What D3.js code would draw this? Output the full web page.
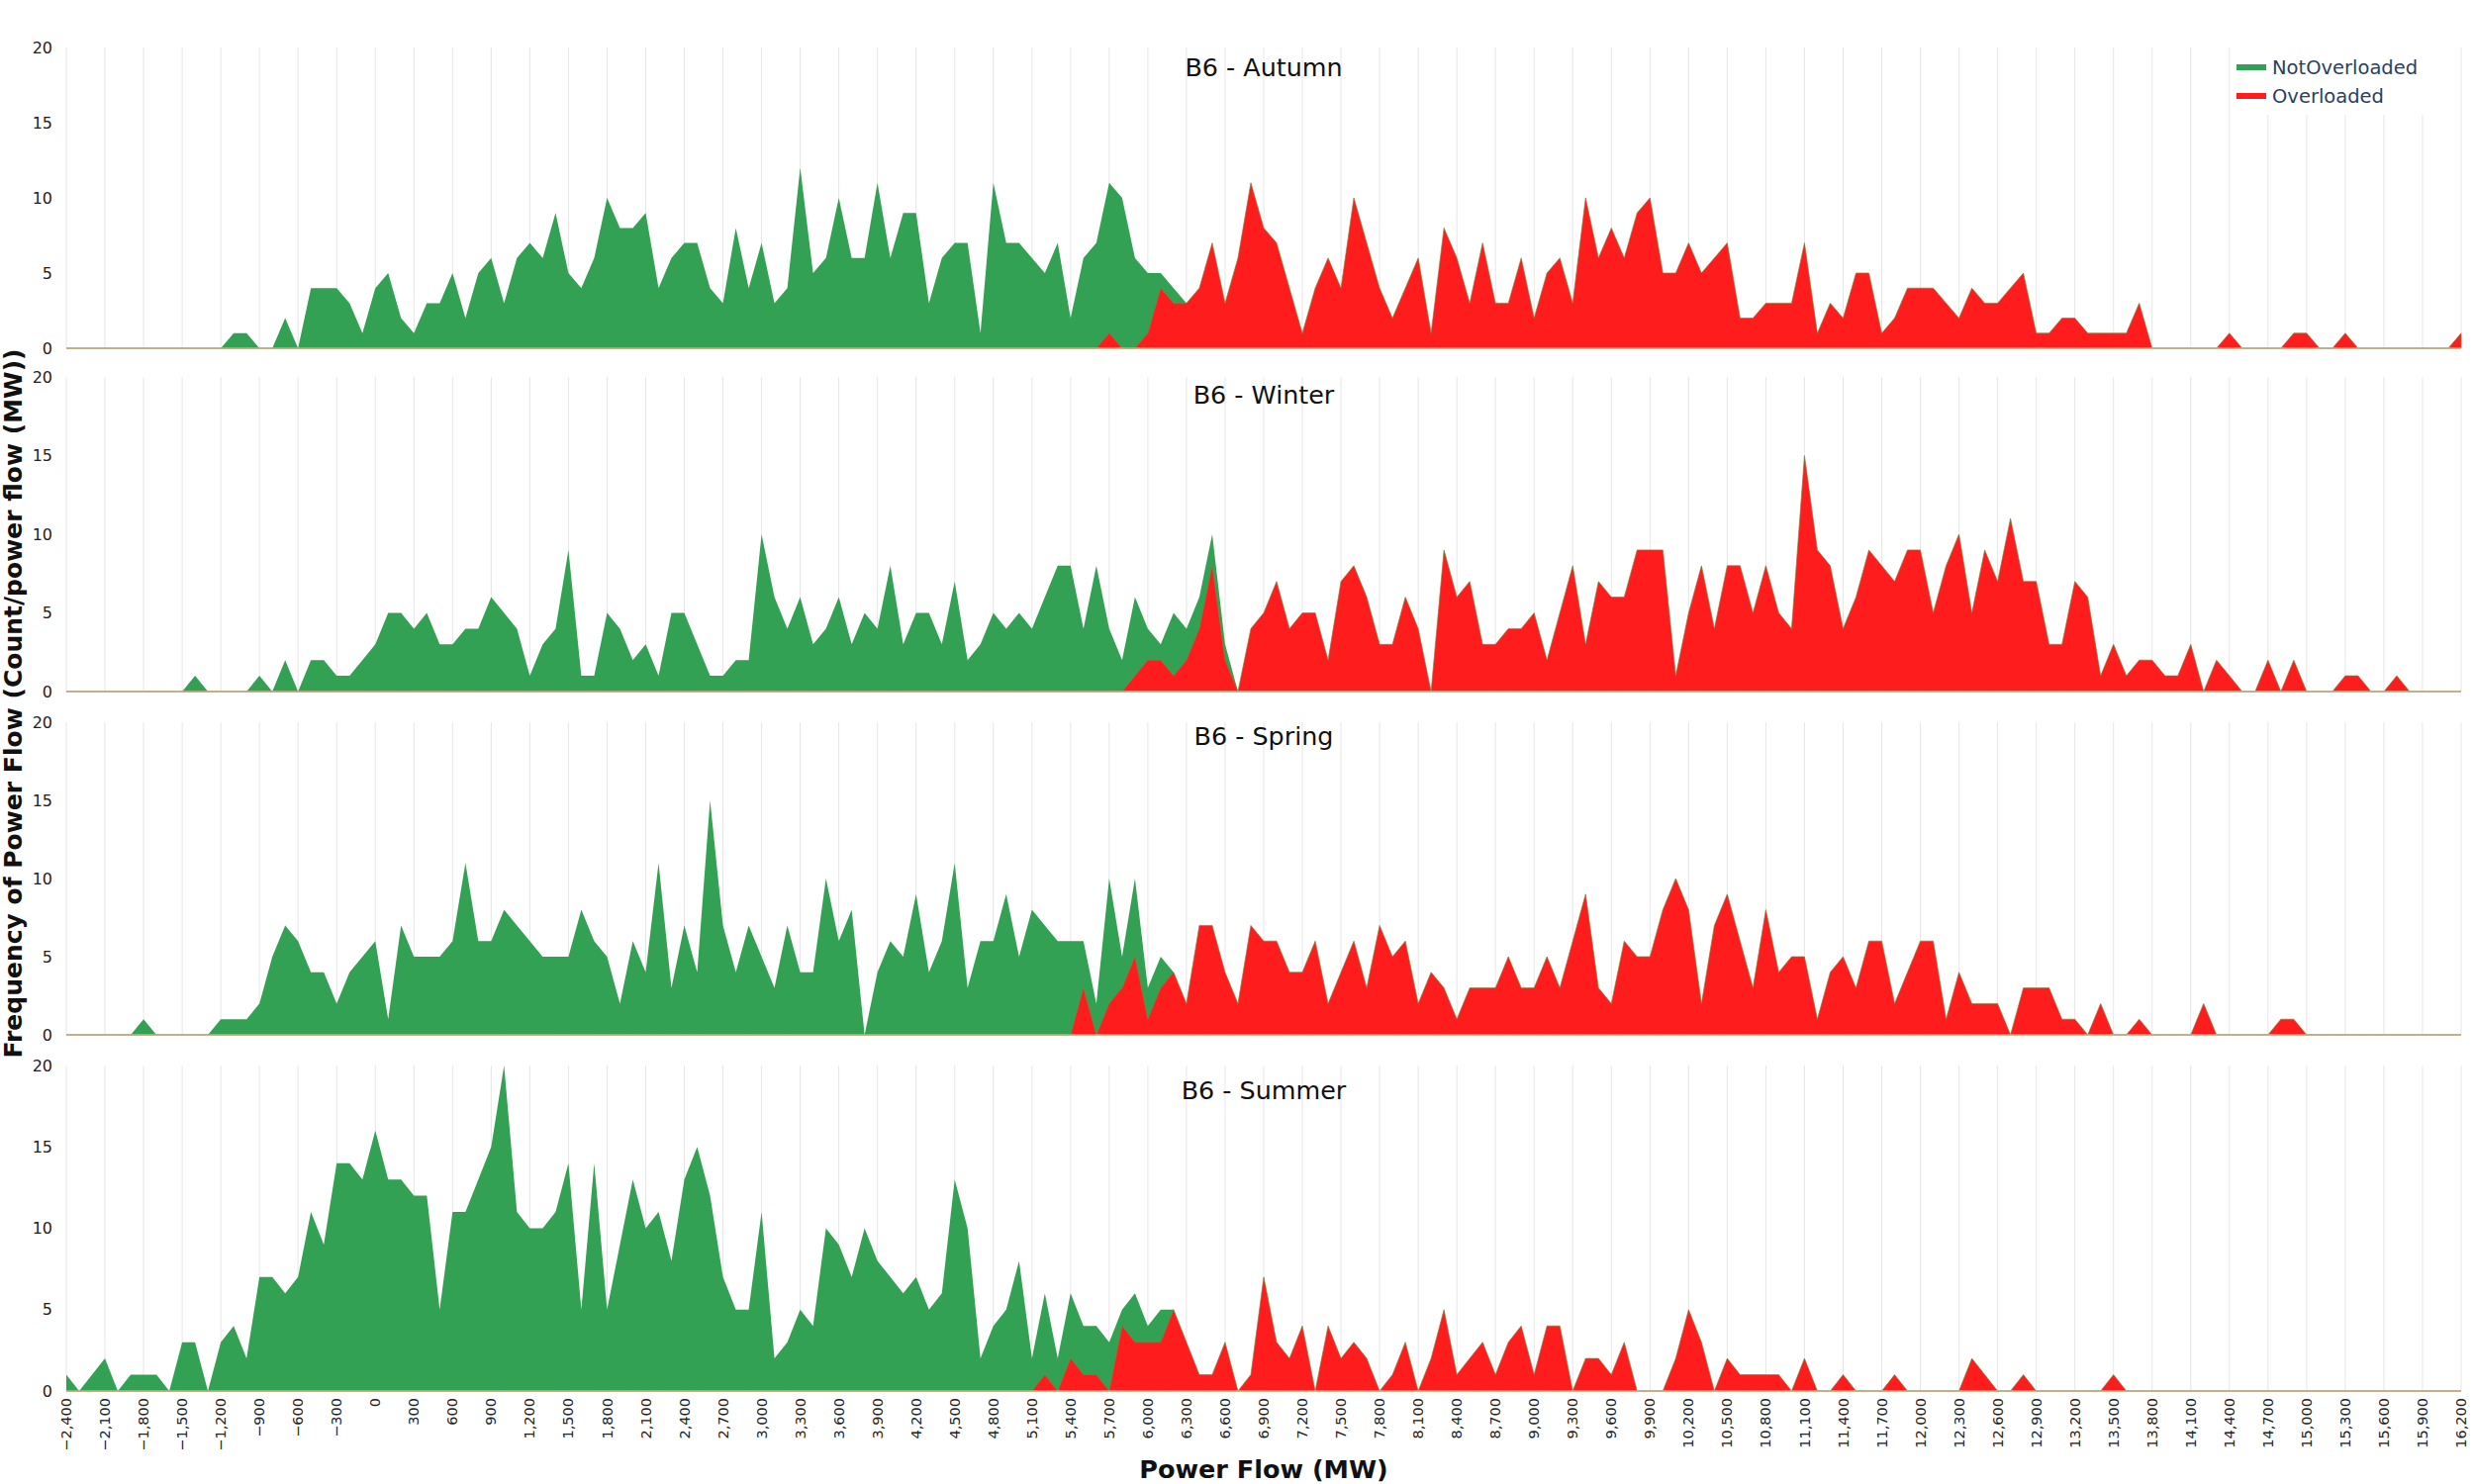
<!DOCTYPE html>
<html>
<head>
<meta charset="utf-8">
<script src="https://cdn.jsdelivr.net/npm/d3@7"></script>
<style>
  body { margin: 0; background: #fff; }
  text { font-family: "DejaVu Sans", Verdana, sans-serif; }
</style>
</head>
<body>
<div id="chart"></div>
<script>
// histogram bins: power flow in MW, one bin every 100 MW
const binStart = -2400, binEnd = 16200, binStep = 100;
const bins = d3.range(binStart, binEnd + 1, binStep);

const seasons = ["Autumn", "Winter", "Spring", "Summer"];
const seriesNames = ["NotOverloaded", "Overloaded"];

// counts per bin, -2400 ... 16200
const autumnNotOverloaded = [
  0,0,0,0,0,0,0,0,0,0, 0,0,0,1,1,0,0,2,0,4, 4,4,3,1,4,5,2,1,3,3, 5,2,5,6,3,6,7,6,9,5,
  4,6,10,8,8,9,4,6,7,7, 4,3,8,4,7,3,4,12,5,6, 10,6,6,11,6,9,9,3,6,7, 7,1,11,7,7,6,5,7,2,6,
  7,11,10,6,5,5,4,3,0,0, 0,0,0,0,0,0,0,0,0,0, 0,0,0,0,0,0,0,0,0,0, 0,0,0,0,0,0,0,0,0,0,
  0,0,0,0,0,0,0,0,0,0, 0,0,0,0,0,0,0,0,0,0, 0,0,0,0,0,0,0,0,0,0, 0,0,0,0,0,0,0,0,0,0,
  0,0,0,0,0,0,0,0,0,0, 0,0,0,0,0,0,0,0,0,0, 0,0,0,0,0,0,0
];
const autumnOverloaded = [
  0,0,0,0,0,0,0,0,0,0, 0,0,0,0,0,0,0,0,0,0, 0,0,0,0,0,0,0,0,0,0, 0,0,0,0,0,0,0,0,0,0,
  0,0,0,0,0,0,0,0,0,0, 0,0,0,0,0,0,0,0,0,0, 0,0,0,0,0,0,0,0,0,0, 0,0,0,0,0,0,0,0,0,0,
  0,1,0,0,1,4,3,3,4,7, 3,6,11,8,7,4,1,4,6,4, 10,7,4,2,4,6,1,8,6,3, 7,3,3,6,2,5,6,3,10,6,
  8,6,9,10,5,5,7,5,6,7, 2,2,3,3,3,7,1,3,2,5, 5,1,2,4,4,4,3,2,4,3, 3,4,5,1,1,2,2,1,1,1,
  1,3,0,0,0,0,0,0,1,0, 0,0,0,1,1,0,0,1,0,0, 0,0,0,0,0,0,1
];
const winterNotOverloaded = [
  0,0,0,0,0,0,0,0,0,0, 1,0,0,0,0,1,0,2,0,2, 2,1,1,2,3,5,5,4,5,3, 3,4,4,6,5,4,1,3,4,9,
  1,1,5,4,2,3,1,5,5,3, 1,1,2,2,10,6,4,6,3,4, 6,3,5,4,8,3,5,5,3,7, 2,3,5,4,5,4,6,8,8,4,
  8,4,2,6,4,3,5,4,6,10, 3,0,0,0,0,0,0,0,0,0, 0,0,0,0,0,0,0,0,0,0, 0,0,0,0,0,0,0,0,0,0,
  0,0,0,0,0,0,0,0,0,0, 0,0,0,0,0,0,0,0,0,0, 0,0,0,0,0,0,0,0,0,0, 0,0,0,0,0,0,0,0,0,0,
  0,0,0,0,0,0,0,0,0,0, 0,0,0,0,0,0,0,0,0,0, 0,0,0,0,0,0,0
];
const winterOverloaded = [
  0,0,0,0,0,0,0,0,0,0, 0,0,0,0,0,0,0,0,0,0, 0,0,0,0,0,0,0,0,0,0, 0,0,0,0,0,0,0,0,0,0,
  0,0,0,0,0,0,0,0,0,0, 0,0,0,0,0,0,0,0,0,0, 0,0,0,0,0,0,0,0,0,0, 0,0,0,0,0,0,0,0,0,0,
  0,0,0,1,2,2,1,2,4,8, 2,0,4,5,7,4,5,5,2,7, 8,6,3,3,6,4,0,9,6,7, 3,3,4,4,5,2,5,8,3,7,
  6,6,9,9,9,1,5,8,4,8, 8,5,8,5,4,15,9,8,4,6, 9,8,7,9,9,5,8,10,5,9, 7,11,7,7,3,3,7,6,1,3,
  1,2,2,1,1,3,0,2,1,0, 0,2,0,2,0,0,0,1,1,0, 0,1,0,0,0,0,0
];
const springNotOverloaded = [
  0,0,0,0,0,0,1,0,0,0, 0,0,1,1,1,2,5,7,6,4, 4,2,4,5,6,1,7,5,5,5, 6,11,6,6,8,7,6,5,5,5,
  8,6,5,2,6,4,11,3,7,4, 15,7,4,7,5,3,7,4,4,10, 6,8,0,4,6,5,9,4,6,11, 3,6,6,9,5,8,7,6,6,6,
  2,10,5,10,3,5,4,0,0,0, 0,0,0,0,0,0,0,0,0,0, 0,0,0,0,0,0,0,0,0,0, 0,0,0,0,0,0,0,0,0,0,
  0,0,0,0,0,0,0,0,0,0, 0,0,0,0,0,0,0,0,0,0, 0,0,0,0,0,0,0,0,0,0, 0,0,0,0,0,0,0,0,0,0,
  0,0,0,0,0,0,0,0,0,0, 0,0,0,0,0,0,0,0,0,0, 0,0,0,0,0,0,0
];
const springOverloaded = [
  0,0,0,0,0,0,0,0,0,0, 0,0,0,0,0,0,0,0,0,0, 0,0,0,0,0,0,0,0,0,0, 0,0,0,0,0,0,0,0,0,0,
  0,0,0,0,0,0,0,0,0,0, 0,0,0,0,0,0,0,0,0,0, 0,0,0,0,0,0,0,0,0,0, 0,0,0,0,0,0,0,0,0,3,
  0,2,3,5,1,3,4,2,7,7, 4,2,7,6,6,4,4,6,2,4, 6,3,7,5,6,2,4,3,1,3, 3,3,5,3,3,5,3,6,9,3,
  2,6,5,5,8,10,8,2,7,9, 6,3,8,4,5,5,1,4,5,3, 6,6,2,4,6,6,1,4,2,2, 2,0,3,3,3,1,1,0,2,0,
  0,1,0,0,0,0,2,0,0,0, 0,0,1,1,0,0,0,0,0,0, 0,0,0,0,0,0,0
];
const summerNotOverloaded = [
  1,0,1,2,0,1,1,1,0,3, 3,0,3,4,2,7,7,6,7,11, 9,14,14,13,16,13,13,12,12,5, 11,11,13,15,20,11,10,10,11,14,
  5,14,5,9,13,10,11,8,13,15, 12,7,5,5,11,2,3,5,4,10, 9,7,10,8,7,6,7,5,6,13, 10,2,4,5,8,2,6,2,6,4,
  4,3,5,6,4,5,5,0,0,0, 0,0,0,0,0,0,0,0,0,0, 0,0,0,0,0,0,0,0,0,0, 0,0,0,0,0,0,0,0,0,0,
  0,0,0,0,0,0,0,0,0,0, 0,0,0,0,0,0,0,0,0,0, 0,0,0,0,0,0,0,0,0,0, 0,0,0,0,0,0,0,0,0,0,
  0,0,0,0,0,0,0,0,0,0, 0,0,0,0,0,0,0,0,0,0, 0,0,0,0,0,0,0
];
const summerOverloaded = [
  0,0,0,0,0,0,0,0,0,0, 0,0,0,0,0,0,0,0,0,0, 0,0,0,0,0,0,0,0,0,0, 0,0,0,0,0,0,0,0,0,0,
  0,0,0,0,0,0,0,0,0,0, 0,0,0,0,0,0,0,0,0,0, 0,0,0,0,0,0,0,0,0,0, 0,0,0,0,0,0,1,0,2,1,
  1,0,4,3,3,3,5,3,1,1, 3,0,1,7,3,2,4,0,4,2, 3,2,0,1,3,0,2,5,1,2, 3,1,3,4,1,4,4,0,2,2,
  1,3,0,0,0,2,5,3,0,2, 1,1,1,1,0,2,0,0,1,0, 0,0,1,0,0,0,0,0,2,1, 0,0,1,0,0,0,0,0,0,1,
  0,0,0,0,0,0,0,0,0,0, 0,0,0,0,0,0,0,0,0,0, 0,0,0,0,0,0,0
];

const xTickValues = [
  -2400,-2100,-1800,-1500,-1200,-900,-600,-300,0,300,600,900,1200,1500,1800,2100,2400,2700,
  3000,3300,3600,3900,4200,4500,4800,5100,5400,5700,6000,6300,6600,6900,7200,7500,7800,8100,
  8400,8700,9000,9300,9600,9900,10200,10500,10800,11100,11400,11700,12000,12300,12600,12900,
  13200,13500,13800,14100,14400,14700,15000,15300,15600,15900,16200
];
const yTickValues = [0, 5, 10, 15, 20];

const seasonData = {
  Autumn: [autumnNotOverloaded, autumnOverloaded],
  Winter: [winterNotOverloaded, winterOverloaded],
  Spring: [springNotOverloaded, springOverloaded],
  Summer: [summerNotOverloaded, summerOverloaded]
};

const colors = ["#33a153", "#ff1c1c"];

const width = 2500, height = 1500;
const plotLeft = 67, plotRight = 2487;
// each panel's top (count 20) and bottom (count 0)
const panels = [
  { top: 48, bottom: 352, titleY: 77 },
  { top: 381, bottom: 699, titleY: 408 },
  { top: 730, bottom: 1046, titleY: 753 },
  { top: 1077, bottom: 1406, titleY: 1111 }
];

const svg = d3.select("#chart").append("svg")
  .attr("width", width)
  .attr("height", height);

const x = d3.scaleLinear().domain([binStart, binEnd]).range([plotLeft, plotRight]);

seasons.forEach((season, si) => {
  const p = panels[si];
  const y = d3.scaleLinear().domain([0, 20]).range([p.bottom, p.top]);
  const g = svg.append("g");

  // vertical grid
  g.selectAll(".grid").data(xTickValues).enter().append("line")
    .attr("x1", d => x(d)).attr("x2", d => x(d))
    .attr("y1", p.top).attr("y2", p.bottom)
    .attr("stroke", "#e6e6e6").attr("stroke-width", 1);

  // y tick labels
  g.selectAll(".ytick").data(yTickValues).enter().append("text")
    .attr("x", 53).attr("y", d => y(d))
    .attr("dy", "0.35em")
    .attr("text-anchor", "end")
    .attr("font-size", 16)
    .attr("fill", "#222")
    .text(d => d);

  const area = d3.area()
    .x((d, i) => x(bins[i]))
    .y0(y(0))
    .y1(d => y(d));

  seasonData[season].forEach((counts, k) => {
    g.append("path")
      .datum(counts)
      .attr("d", area)
      .attr("fill", colors[k])
      .attr("stroke", k === 1 ? "#8c7a3c" : "none")
      .attr("stroke-width", 0.7);
  });

  // zero line
  g.append("line")
    .attr("x1", plotLeft).attr("x2", plotRight)
    .attr("y1", y(0)).attr("y2", y(0))
    .attr("stroke", "#c4b088").attr("stroke-width", 1.5);

  g.append("text")
    .attr("x", (plotLeft + plotRight) / 2)
    .attr("y", p.titleY)
    .attr("text-anchor", "middle")
    .attr("font-size", 25.4)
    .attr("fill", "#111")
    .text("B6 - " + season);
});

// x tick labels below the last panel
const last = panels[panels.length - 1];
svg.append("g").selectAll("text").data(xTickValues).enter().append("text")
  .attr("transform", d => `translate(${x(d)},${last.bottom + 7}) rotate(-90)`)
  .attr("dy", "0.35em")
  .attr("text-anchor", "end")
  .attr("font-size", 14.5)
  .attr("fill", "#222")
  .text(d => d3.format(",")(d));

// axis titles
svg.append("text")
  .attr("x", (plotLeft + plotRight) / 2)
  .attr("y", 1494)
  .attr("text-anchor", "middle")
  .attr("font-size", 25.5)
  .attr("font-weight", "bold")
  .attr("fill", "#111")
  .text("Power Flow (MW)");

svg.append("text")
  .attr("transform", "translate(22,711) rotate(-90)")
  .attr("text-anchor", "middle")
  .attr("font-size", 25)
  .attr("font-weight", "bold")
  .attr("fill", "#111")
  .text("Frequency of Power Flow (Count/power flow (MW))");

// legend
const legend = svg.append("g");
legend.append("rect")
  .attr("x", 2254).attr("y", 40).attr("width", 228).attr("height", 76)
  .attr("fill", "#fff");
seriesNames.forEach((name, k) => {
  const ly = 68 + k * 29;
  legend.append("line")
    .attr("x1", 2260).attr("x2", 2290)
    .attr("y1", ly).attr("y2", ly)
    .attr("stroke", colors[k]).attr("stroke-width", 6);
  legend.append("text")
    .attr("x", 2296).attr("y", ly)
    .attr("dy", "0.35em")
    .attr("font-size", 19.5)
    .attr("fill", "#2a3f5f")
    .text(name);
});
</script>
</body>
</html>
